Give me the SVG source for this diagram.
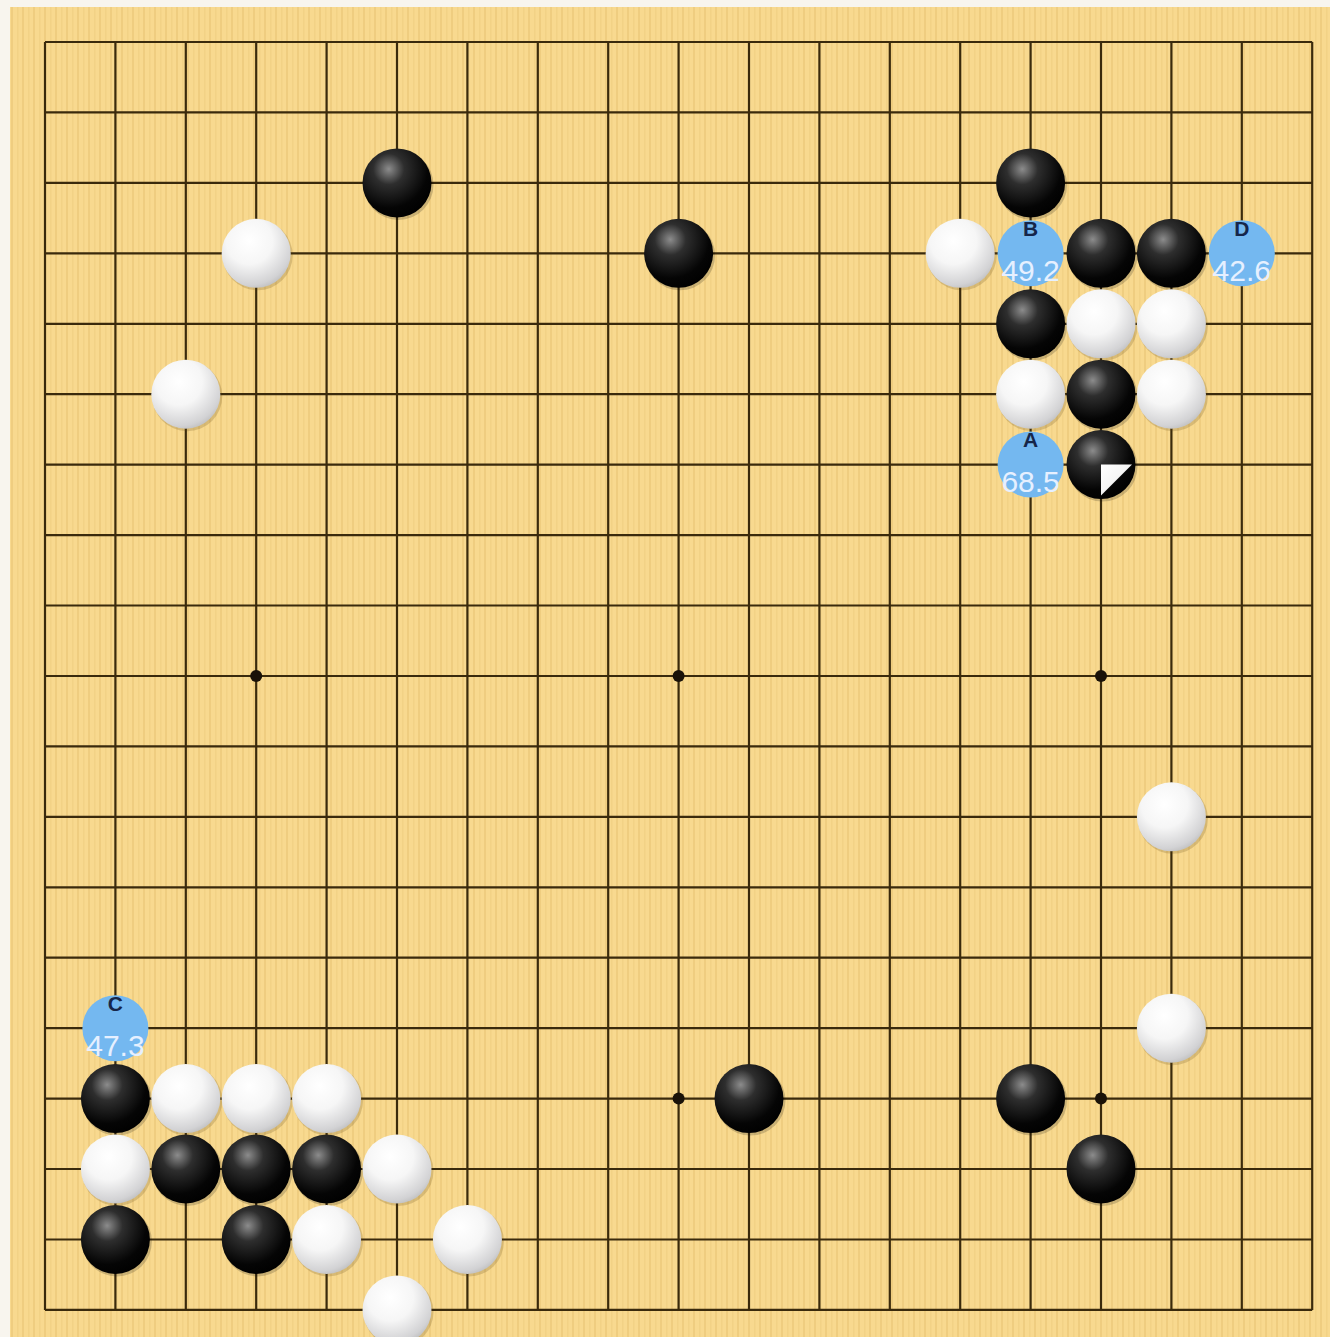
<svg xmlns="http://www.w3.org/2000/svg" xmlns:xlink="http://www.w3.org/1999/xlink" width="1330" height="1337" viewBox="0 0 1330 1337">
<defs>
<pattern id="wood" patternUnits="userSpaceOnUse" width="11" height="20">
<rect width="11" height="20" fill="#F8D98F"/>
<rect x="0" width="2" height="20" fill="#EFCD80"/>
<rect x="6" width="1.5" height="20" fill="#F2D286"/>
</pattern>
<radialGradient id="gb" cx="0.38" cy="0.3" r="0.75">
<stop offset="0" stop-color="#8c8c8c"/>
<stop offset="0.3" stop-color="#2e2e2e"/>
<stop offset="0.75" stop-color="#050505"/>
<stop offset="1" stop-color="#000"/>
</radialGradient>
<radialGradient id="gw" cx="0.4" cy="0.32" r="0.75">
<stop offset="0" stop-color="#ffffff"/>
<stop offset="0.45" stop-color="#f6f6f6"/>
<stop offset="0.85" stop-color="#d2d2d4"/>
<stop offset="1" stop-color="#b8b8b8"/>
</radialGradient>
<linearGradient id="gt" x1="0" y1="0" x2="1" y2="1">
<stop offset="0" stop-color="#ffffff"/>
<stop offset="0.6" stop-color="#f2f2f2"/>
<stop offset="1" stop-color="#cfcfcf"/>
</linearGradient>
<g id="bs"><circle cx="1.5" cy="2" r="35" fill="#000" opacity="0.18"/><circle r="34.5" fill="url(#gb)"/></g>
<g id="ws"><circle cx="1.5" cy="2" r="35" fill="#5a4010" opacity="0.2"/><circle r="34.5" fill="url(#gw)"/></g>
<circle id="star" r="6" fill="#1a1208"/>
</defs>
<style>
.grid{stroke:#3a2a0c;stroke-width:2.2;fill:none}
.mk{fill:#74B8F0}
.lt{font-family:"Liberation Sans",Arial,sans-serif;font-weight:bold;font-size:21px;fill:#16264a;text-anchor:middle}
.nm{font-family:"Liberation Sans",Arial,sans-serif;font-size:30px;fill:#e6f0ff;text-anchor:middle}
</style>
<rect width="1330" height="1337" fill="#f8f5ee"/>
<rect x="10" y="7" width="1320" height="1330" fill="url(#wood)"/>
<g id="grid">
<path class="grid" d="M45 42H1312.2M45 112.4H1312.2M45 182.9H1312.2M45 253.3H1312.2M45 323.8H1312.2M45 394.2H1312.2M45 464.6H1312.2M45 535.1H1312.2M45 605.5H1312.2M45 676H1312.2M45 746.4H1312.2M45 816.8H1312.2M45 887.3H1312.2M45 957.7H1312.2M45 1028.2H1312.2M45 1098.6H1312.2M45 1169H1312.2M45 1239.5H1312.2M45 1309.9H1312.2"/>
<path class="grid" d="M45 42V1309.9M115.4 42V1309.9M185.8 42V1309.9M256.2 42V1309.9M326.6 42V1309.9M397 42V1309.9M467.4 42V1309.9M537.8 42V1309.9M608.2 42V1309.9M678.6 42V1309.9M749 42V1309.9M819.4 42V1309.9M889.8 42V1309.9M960.2 42V1309.9M1030.6 42V1309.9M1101 42V1309.9M1171.4 42V1309.9M1241.8 42V1309.9M1312.2 42V1309.9"/>
<use href="#star" x="256.2" y="253.3"/><use href="#star" x="678.6" y="253.3"/><use href="#star" x="1101" y="253.3"/>
<use href="#star" x="256.2" y="676"/><use href="#star" x="678.6" y="676"/><use href="#star" x="1101" y="676"/>
<use href="#star" x="256.2" y="1098.6"/><use href="#star" x="678.6" y="1098.6"/><use href="#star" x="1101" y="1098.6"/>
</g>
<g id="black-stones">
<g id="b-5-2"><use href="#bs" x="397" y="182.9"/></g>
<g id="b-9-3"><use href="#bs" x="678.6" y="253.3"/></g>
<g id="b-14-2"><use href="#bs" x="1030.6" y="182.9"/></g>
<g id="b-15-3"><use href="#bs" x="1101" y="253.3"/></g>
<g id="b-16-3"><use href="#bs" x="1171.4" y="253.3"/></g>
<g id="b-14-4"><use href="#bs" x="1030.6" y="323.8"/></g>
<g id="b-15-5"><use href="#bs" x="1101" y="394.2"/></g>
<g id="b-15-6"><use href="#bs" x="1101" y="464.6"/><polygon points="1101,464.6 1132,464.6 1101,495.6" fill="url(#gt)"/></g>
<g id="b-1-15"><use href="#bs" x="115.4" y="1098.6"/></g>
<g id="b-2-16"><use href="#bs" x="185.8" y="1169"/></g>
<g id="b-3-16"><use href="#bs" x="256.2" y="1169"/></g>
<g id="b-4-16"><use href="#bs" x="326.6" y="1169"/></g>
<g id="b-1-17"><use href="#bs" x="115.4" y="1239.5"/></g>
<g id="b-3-17"><use href="#bs" x="256.2" y="1239.5"/></g>
<g id="b-10-15"><use href="#bs" x="749" y="1098.6"/></g>
<g id="b-14-15"><use href="#bs" x="1030.6" y="1098.6"/></g>
<g id="b-15-16"><use href="#bs" x="1101" y="1169"/></g>
</g>
<g id="white-stones">
<g id="w-3-3"><use href="#ws" x="256.2" y="253.3"/></g>
<g id="w-2-5"><use href="#ws" x="185.8" y="394.2"/></g>
<g id="w-13-3"><use href="#ws" x="960.2" y="253.3"/></g>
<g id="w-15-4"><use href="#ws" x="1101" y="323.8"/></g>
<g id="w-16-4"><use href="#ws" x="1171.4" y="323.8"/></g>
<g id="w-14-5"><use href="#ws" x="1030.6" y="394.2"/></g>
<g id="w-16-5"><use href="#ws" x="1171.4" y="394.2"/></g>
<g id="w-16-11"><use href="#ws" x="1171.4" y="816.8"/></g>
<g id="w-16-14"><use href="#ws" x="1171.4" y="1028.2"/></g>
<g id="w-2-15"><use href="#ws" x="185.8" y="1098.6"/></g>
<g id="w-3-15"><use href="#ws" x="256.2" y="1098.6"/></g>
<g id="w-4-15"><use href="#ws" x="326.6" y="1098.6"/></g>
<g id="w-1-16"><use href="#ws" x="115.4" y="1169"/></g>
<g id="w-5-16"><use href="#ws" x="397" y="1169"/></g>
<g id="w-4-17"><use href="#ws" x="326.6" y="1239.5"/></g>
<g id="w-6-17"><use href="#ws" x="467.4" y="1239.5"/></g>
<g id="w-5-18"><use href="#ws" x="397" y="1309.9"/></g>
</g>
<g id="candidates">
<g id="cand-B"><circle class="mk" cx="1030.6" cy="253.3" r="33"/><text class="lt" x="1030.6" y="236">B</text><text class="nm" x="1030.6" y="281">49.2</text></g>
<g id="cand-D"><circle class="mk" cx="1241.8" cy="253.3" r="33"/><text class="lt" x="1241.8" y="236">D</text><text class="nm" x="1241.8" y="281">42.6</text></g>
<g id="cand-A"><circle class="mk" cx="1030.6" cy="464.6" r="33"/><text class="lt" x="1030.6" y="447">A</text><text class="nm" x="1030.6" y="492">68.5</text></g>
<g id="cand-C"><circle class="mk" cx="115.4" cy="1028.2" r="33"/><text class="lt" x="115.4" y="1011">C</text><text class="nm" x="115.4" y="1056">47.3</text></g>
</g>
</svg>
